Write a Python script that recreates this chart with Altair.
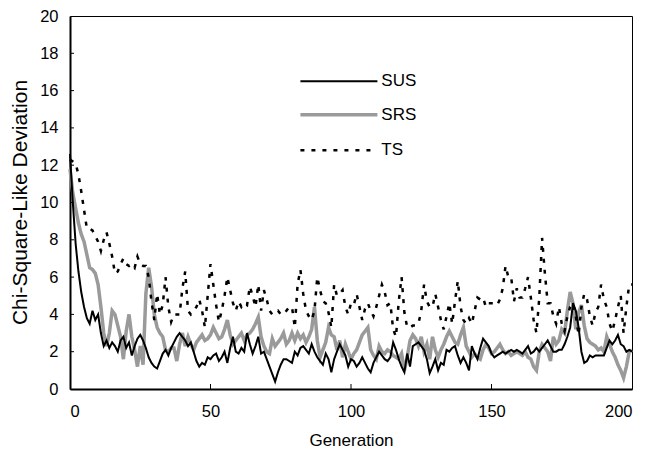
import altair as alt
import pandas as pd

generations = list(range(0, 201))

sus = [
    12.6, 10.0, 7.8, 6.3, 5.2, 4.4, 3.8, 3.5, 4.2, 3.7,
    4.0, 3.0, 2.3, 2.6, 2.2, 2.5, 2.3, 2.0, 2.6, 2.8,
    2.2, 2.5, 1.8, 2.3, 2.7, 2.9, 2.6, 2.2, 1.7, 1.4,
    1.2, 1.1, 1.5, 1.9, 2.1, 1.8, 2.2, 2.5, 2.8, 3.0,
    2.8, 2.6, 2.3, 2.5, 2.0, 1.5, 1.2, 1.4, 1.3, 1.7,
    1.6, 1.8, 1.9, 1.5, 1.7, 2.0, 1.4, 2.2, 2.8, 2.0,
    1.9, 2.2, 2.0, 3.0, 2.4, 1.9, 2.3, 2.8, 1.9, 2.0,
    1.6, 1.2, 0.8, 0.4, 0.9, 1.3, 1.6, 1.6, 1.5, 1.4,
    2.0, 1.8, 2.2, 2.3, 2.1, 1.9, 2.4, 2.0, 1.7, 1.5,
    1.3, 1.9, 1.6, 0.9, 1.6, 2.0, 2.4, 2.1, 1.8, 1.2,
    1.6, 1.5, 1.2, 1.4, 1.7, 1.4, 1.1, 0.9, 1.4, 1.7,
    2.0, 1.8, 1.6, 1.5, 1.7, 2.5, 2.1, 1.6, 1.2, 0.9,
    1.9, 1.2, 2.3, 2.4, 2.5, 2.3, 2.1, 1.6, 0.85, 1.2,
    1.6, 1.0, 1.4, 1.3, 2.1, 2.0, 2.2, 2.3, 1.8, 1.4,
    1.7, 1.4, 1.0, 2.3, 1.9, 1.6, 2.2, 2.7, 2.5, 2.3,
    1.9, 1.7, 1.8, 1.9, 2.0, 1.9, 2.0, 2.1, 2.0, 2.1,
    2.0, 1.9, 2.1, 2.3, 1.9, 2.0, 2.2, 2.0, 2.2, 2.4,
    2.6, 2.3, 2.0, 2.0, 2.1, 2.1, 2.4, 2.8, 3.3, 4.6,
    4.2, 3.3, 2.0, 1.4, 1.5, 1.8, 1.7, 1.8, 1.8, 1.8,
    1.8, 2.2, 2.6, 2.4, 2.6, 2.9, 2.4, 2.3, 2.0, 2.1,
    2.0,
]

srs = [
    11.8, 10.5, 9.7, 8.9, 8.3, 7.9, 7.2, 6.5, 6.4, 6.2,
    5.6, 4.4, 3.0, 2.3, 3.0, 4.2, 4.0, 3.4, 2.8, 1.6,
    3.1, 4.0, 2.8, 2.1, 1.2, 2.3, 1.3, 5.1, 6.5, 5.5,
    4.0, 3.3, 3.0, 2.8, 2.1, 2.0, 2.2, 2.2, 1.5, 2.4,
    3.0, 2.3, 2.8, 2.4, 2.1, 2.5, 2.7, 2.9, 2.6, 2.7,
    2.9, 3.3, 3.0, 2.7, 2.8, 3.2, 3.7, 2.9, 2.4, 2.6,
    2.8, 3.0, 2.6, 2.9, 3.0, 3.2, 3.5, 3.85, 2.8, 2.3,
    2.0, 1.9, 2.7, 2.3, 2.5, 2.7, 3.0, 2.4, 2.6, 3.0,
    2.6, 3.0, 2.7, 2.9, 2.5, 2.8, 3.2, 4.4, 2.6, 1.7,
    2.1, 2.5, 3.3, 2.9, 2.8, 2.1, 2.6, 1.7, 2.4, 2.0,
    1.6, 1.9, 2.1, 2.5, 2.9, 3.1, 3.3, 2.1, 1.8, 1.6,
    2.3, 2.0, 1.9, 2.1, 2.0, 1.8, 1.7, 1.6, 1.9, 1.0,
    1.7, 2.6, 2.9, 2.7, 2.3, 2.8, 2.0, 2.4, 1.6, 2.8,
    2.1, 1.7, 2.1, 2.4, 2.8, 3.1, 2.8, 2.5, 2.4, 2.9,
    3.3, 2.3, 2.0, 1.7, 1.9, 1.7, 1.6, 2.1, 2.4, 2.2,
    1.9, 2.0, 2.2, 2.4, 2.1, 1.9, 2.0, 1.8, 1.9, 2.0,
    1.9, 1.8, 2.0, 1.7, 1.6, 1.2, 1.0, 2.0, 2.4, 2.2,
    2.0, 1.5, 2.8, 2.4, 2.6, 3.2, 3.0, 4.2, 5.2, 4.6,
    3.2, 4.1, 4.5, 3.4, 2.7, 2.5, 2.4, 2.3, 2.1, 2.2,
    2.0, 2.8, 2.4, 2.0, 1.7, 1.3, 1.0, 0.6, 1.2, 2.0,
    2.1,
]

ts = [
    12.3, 12.2, 12.1, 11.5, 10.6, 9.6, 8.6, 8.6, 8.5, 8.2,
    7.9, 7.4, 8.0, 8.4, 7.8, 7.1, 6.2, 6.3, 6.7, 7.0,
    6.7, 6.6, 6.7, 6.5, 7.1, 6.7, 6.6, 6.6, 6.0, 4.7,
    3.7, 5.1, 4.0, 4.5, 6.0, 4.4, 3.6, 4.0, 4.0, 4.0,
    5.4, 6.3, 4.2, 4.0, 4.2, 4.4, 4.8, 4.2, 3.3, 5.0,
    6.7, 5.6, 4.5, 3.6, 4.2, 5.0, 6.0, 5.3, 4.6, 4.2,
    4.7, 4.4, 4.6, 4.5, 5.5, 5.0, 4.4, 5.6, 4.2, 5.3,
    4.8, 4.2, 4.0, 4.1, 4.2, 4.0, 4.0, 4.2, 4.4, 4.4,
    3.3, 5.6, 6.4, 5.1, 4.2, 3.9, 3.7, 4.2, 6.0, 5.3,
    4.7, 4.6, 4.1, 3.3, 5.6, 5.0, 5.1, 5.3, 4.4, 4.0,
    4.6, 4.5, 5.1, 4.4, 3.7, 4.3, 4.6, 4.2, 3.9, 4.4,
    5.0, 5.6, 5.2, 4.5, 4.6, 3.2, 2.8, 4.7, 6.0, 4.1,
    3.3, 3.3, 3.4, 3.4, 3.5, 4.2, 5.6, 4.7, 4.4, 4.4,
    5.1, 4.4, 3.7, 3.2, 3.9, 4.6, 3.5, 4.7, 5.8, 4.4,
    3.7, 3.5, 3.8, 3.5, 4.2, 4.9, 4.8, 4.9, 4.4, 4.6,
    4.6, 4.6, 4.5, 4.8, 5.4, 6.6, 6.0, 6.0, 4.7, 5.4,
    4.9, 4.9, 5.4, 6.0, 4.9, 3.7, 3.0, 4.9, 8.1, 6.2,
    4.6, 4.6, 3.9, 3.5, 4.4, 3.5, 3.1, 3.9, 4.4, 4.6,
    3.9, 2.9, 4.4, 5.1, 4.8, 3.9, 3.4, 4.1, 4.4, 5.6,
    4.8, 4.4, 3.5, 3.1, 3.7, 4.4, 5.0, 3.0, 4.4, 5.6,
    5.6,
]

x_ticks = [0, 50, 100, 150, 200]
y_ticks = [0, 2, 4, 6, 8, 10, 12, 14, 16, 18, 20]

legend_names = ["SUS", "SRS", "TS"]
legend_y = [16.5, 14.7, 12.8]
legend_x_start = [82.0, 82.0, 82.0]
legend_x_end = [109.4, 109.4, 109.4]
legend_text_x = [110.8, 110.8, 110.8]

W, H = 562, 373
FONT = "Liberation Sans"

xscale = alt.Scale(domain=[0, 200], nice=False, zero=False)
yscale = alt.Scale(domain=[0, 20], nice=False, zero=False)

df = pd.DataFrame({"gen": generations, "SUS": sus, "SRS": srs, "TS": ts})
leg = pd.DataFrame({"name": legend_names, "y": legend_y, "x1": legend_x_start,
                    "x2": legend_x_end, "tx": legend_text_x})

xaxis = alt.Axis(values=x_ticks, ticks=False, grid=False, labelFontSize=16.5, labelFont=FONT,
                 labelColor="black", labelPadding=14, labelOverlap=False,
                 domainColor="black", domainWidth=2,
                 title="Generation", titleFont=FONT, titleFontSize=17, titleFontWeight="normal",
                 titleColor="black", titleBaseline="middle", titleY=51)
yaxis = alt.Axis(values=y_ticks, ticks=False, grid=False, labelFontSize=16.5, labelFont=FONT,
                 labelColor="black", labelPadding=12, labelOverlap=False,
                 domainColor="black", domainWidth=2,
                 title="Chi-Square-Like Deviation", titleFont=FONT, titleFontSize=21,
                 titleFontWeight="normal", titleColor="black", titleAngle=-90,
                 titleBaseline="middle", titleAlign="center", titleX=-50, titleY=186)


def X(field):
    return alt.X(field, scale=xscale, axis=xaxis)


def Y(field):
    return alt.Y(field, scale=yscale, axis=yaxis)


base = alt.Chart(df)

srs_line = base.mark_line(color="#9a9a9a", strokeWidth=3.5).encode(
    x=X("gen:Q"), y=Y("SRS:Q"))
sus_line = base.mark_line(color="black", strokeWidth=2).encode(
    x=X("gen:Q"), y=Y("SUS:Q"))
ts_line = base.mark_line(color="black", strokeWidth=2.5, strokeDash=[4, 7]).encode(
    x=X("gen:Q"), y=Y("TS:Q"))

xt = pd.DataFrame({"t": x_ticks[1:-1]})
yt = pd.DataFrame({"t": y_ticks[1:-1]})
xtick_marks = alt.Chart(xt).mark_rule(color="black", strokeWidth=1).encode(
    x=X("t:Q"), y=alt.value(H), y2=alt.value(H - 5))
ytick_marks = alt.Chart(yt).mark_rule(color="black", strokeWidth=1).encode(
    y=Y("t:Q"), x=alt.value(0), x2=alt.value(4))

legbase = alt.Chart(leg)
leg_sus = legbase.transform_filter(alt.datum.name == "SUS").mark_rule(
    color="black", strokeWidth=2).encode(x=X("x1:Q"), x2="x2:Q", y=Y("y:Q"))
leg_srs = legbase.transform_filter(alt.datum.name == "SRS").mark_rule(
    color="#9a9a9a", strokeWidth=3.5).encode(x=X("x1:Q"), x2="x2:Q", y=Y("y:Q"))
leg_ts = legbase.transform_filter(alt.datum.name == "TS").mark_rule(
    color="black", strokeWidth=2.5, strokeDash=[4, 7]).encode(x=X("x1:Q"), x2="x2:Q", y=Y("y:Q"))
leg_text = legbase.mark_text(align="left", baseline="middle", fontSize=17, font=FONT,
                             color="black").encode(x=X("tx:Q"), y=Y("y:Q"), text="name:N")

chart = alt.layer(
    srs_line, sus_line, ts_line, xtick_marks, ytick_marks,
    leg_sus, leg_srs, leg_ts, leg_text,
).properties(
    width=W, height=H,
    autosize=alt.AutoSizeParams(type="none"),
    padding={"left": 62, "top": 8, "right": 9, "bottom": 76},
    background="white",
).configure_view(stroke="black", strokeWidth=1)

chart.save("out.html", embed_options={"renderer": "svg", "actions": False})
